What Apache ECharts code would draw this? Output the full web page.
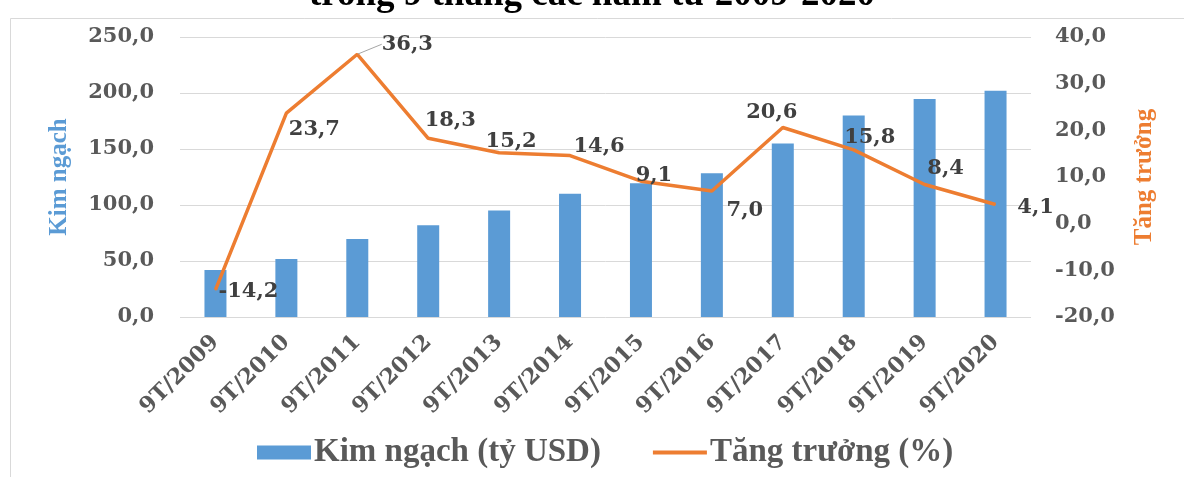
<!DOCTYPE html>
<html>
<head>
<meta charset="utf-8">
<script src="https://cdn.jsdelivr.net/npm/echarts@6/dist/echarts.min.js"></script>
<style>
  html, body { margin: 0; padding: 0; background: #ffffff; }
  #chart { width: 1184px; height: 477px; }
</style>
</head>
<body>
<div id="chart"></div>
<script>
// Export turnover (billion USD) and growth (%) for the first 9 months of each year
const categories = ['9T/2009', '9T/2010', '9T/2011', '9T/2012', '9T/2013', '9T/2014',
                    '9T/2015', '9T/2016', '9T/2017', '9T/2018', '9T/2019', '9T/2020'];
const kimNgach = [42.0, 51.8, 69.6, 82.0, 95.0, 110.0, 119.4, 128.3, 155.0, 180.0, 194.6, 202.0];
const tangTruong = [-14.2, 23.7, 36.3, 18.3, 15.2, 14.6, 9.1, 7.0, 20.6, 15.8, 8.4, 4.1];

const barName = 'Kim ngạch (tỷ USD)';
const lineName = 'Tăng trưởng (%)';
const titleText = 'trong 9 tháng các năm từ 2009-2020';

// label placement around each growth point (dx, dy in px)
const labelShift = [[33, 2], [28, 16], [50, -10], [22, -18], [12, -11], [29, -9],
                    [13, -6], [33, 20], [-11, -15], [16, -12], [21, -16], [40, 3]];

const WIDE = "'DejaVu Serif', 'Liberation Serif', serif";      // digits
const TIMES = "'Liberation Serif', 'Times New Roman', serif";   // Vietnamese text
const BLUE = '#5b9bd5';
const ORANGE = '#ed7d31';
const fmt = v => Number(v).toFixed(1).replace('.', ',');

const chart = echarts.init(document.getElementById('chart'), null, { renderer: 'canvas' });

chart.setOption({
  animation: false,
  backgroundColor: '#ffffff',
  title: {
    text: titleText,
    left: 'center',
    top: -28,
    textStyle: { fontFamily: TIMES, fontWeight: 'bold', fontSize: 37, color: '#000000' }
  },
  graphic: [{
    type: 'rect',
    left: 8, top: 16,
    shape: { width: 1200, height: 520 },
    style: { fill: 'none', stroke: '#d9d9d9', lineWidth: 1 },
    silent: true
  }],
  legend: {
    left: 252,
    top: 431,
    itemWidth: 54,
    itemHeight: 14,
    itemGap: 52,
    textStyle: { fontFamily: TIMES, fontWeight: 'bold', fontSize: 33, color: '#595959', padding: [0, 0, 0, -2] },
    data: [
      { name: barName, icon: 'rect' },
      { name: lineName, icon: 'path://M0,0 L54,0 L54,4 L0,4 Z' }
    ]
  },
  grid: { left: 180, right: 153, top: 37, bottom: 160, containLabel: false },
  xAxis: {
    type: 'category',
    data: categories,
    axisLine: { show: false },
    axisTick: { show: false },
    axisLabel: {
      rotate: 45,
      margin: 22,
      interval: 0,
      fontFamily: WIDE, fontWeight: 'bold', fontSize: 22, color: '#595959'
    }
  },
  yAxis: [
    {
      type: 'value',
      min: 0, max: 250, interval: 50,
      name: 'Kim ngạch',
      nameLocation: 'middle',
      nameRotate: 90,
      nameGap: 108,
      nameTextStyle: { fontFamily: TIMES, fontWeight: 'bold', fontSize: 25, color: BLUE },
      axisLine: { show: false },
      axisTick: { show: false },
      splitLine: { lineStyle: { color: '#d9d9d9', width: 1 } },
      axisLabel: {
        margin: 26,
        formatter: fmt,
        fontFamily: WIDE, fontWeight: 'bold', fontSize: 21, color: '#595959'
      }
    },
    {
      type: 'value',
      min: -20, max: 40, interval: 10,
      position: 'right',
      name: 'Tăng trưởng',
      nameLocation: 'middle',
      nameRotate: 90,
      nameGap: 101,
      nameTextStyle: { fontFamily: TIMES, fontWeight: 'bold', fontSize: 25, color: ORANGE },
      axisLine: { show: false },
      axisTick: { show: false },
      splitLine: { show: false },
      axisLabel: {
        margin: 24,
        formatter: fmt,
        fontFamily: WIDE, fontWeight: 'bold', fontSize: 21, color: '#595959'
      }
    }
  ],
  series: [
    {
      name: barName,
      type: 'bar',
      yAxisIndex: 0,
      data: kimNgach,
      barWidth: 22,
      itemStyle: { color: BLUE },
      z: 2
    },
    {
      name: lineName,
      type: 'line',
      yAxisIndex: 1,
      data: tangTruong.map((v, i) => i === 2
        ? { value: v, labelLine: { show: true, lineStyle: { color: '#a6a6a6', width: 1 } } }
        : v),
      symbol: 'circle',
      symbolSize: 1,
      lineStyle: { color: ORANGE, width: 3.5 },
      itemStyle: { color: ORANGE },
      label: {
        show: true,
        position: 'inside',
        formatter: p => fmt(p.value),
        fontFamily: WIDE, fontWeight: 'bold', fontSize: 21, color: '#404040'
      },
      labelLine: { show: false },
      labelLayout: p => ({ dx: labelShift[p.dataIndex][0], dy: labelShift[p.dataIndex][1] }),
      z: 3
    }
  ]
});
</script>
</body>
</html>
